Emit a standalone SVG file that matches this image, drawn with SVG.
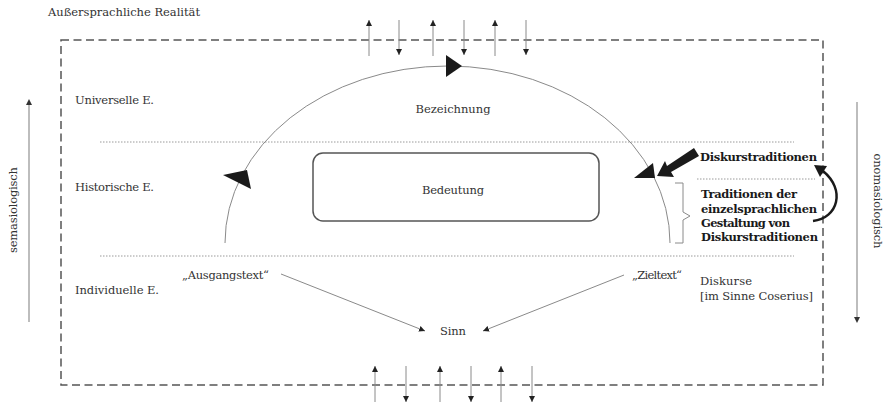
<svg xmlns="http://www.w3.org/2000/svg" width="884" height="404" viewBox="0 0 884 404">
<defs>
<style>
.t{font-family:"DejaVu Serif","Liberation Serif",serif;font-size:11.5px;fill:#333}
.b{font-weight:bold;fill:#1a1a1a}
.dot{stroke:#9a9a9a;stroke-width:1;stroke-dasharray:1.5 1.5;fill:none}
.thin{stroke:#8a8a8a;stroke-width:1;fill:none}
.side{stroke:#bdbdbd;stroke-width:2;fill:none}
.blk{fill:#1a1a1a;stroke:none}
</style>
<marker id="ah" viewBox="0 0 6 6" refX="6" refY="3" markerWidth="6" markerHeight="6" markerUnits="userSpaceOnUse" orient="auto"><path d="M0,0L6,3L0,6z" fill="#222"/></marker>
</defs>
<rect width="884" height="404" fill="#fff"/>

<g id="reality">
<text class="t" x="48" y="16" textLength="152">Außersprachliche Realität</text>
<rect x="61" y="40" width="762" height="345" fill="none" stroke="#555" stroke-width="1.5" stroke-dasharray="8 4.5"/>
</g>

<g id="levels">
<line class="dot" x1="100" y1="142" x2="794" y2="142"/>
<line class="dot" x1="100" y1="256" x2="794" y2="256"/>
<line class="dot" x1="697" y1="179" x2="815" y2="179"/>
<text class="t" x="75" y="104" textLength="79">Universelle E.</text>
<text class="t" x="75" y="191" textLength="79">Historische E.</text>
<text class="t" x="75" y="294" textLength="84">Individuelle E.</text>
</g>

<g id="bezeichnung">
<text class="t" x="453" y="113" text-anchor="middle" textLength="75">Bezeichnung</text>
</g>

<g id="bedeutung">
<rect x="313" y="153" width="286" height="68" rx="10" fill="#fff" stroke="#555" stroke-width="1.5"/>
<text class="t" x="453" y="194" text-anchor="middle" textLength="62">Bedeutung</text>
</g>

<g id="ausgangstext">
<text class="t" x="182" y="279" textLength="87">„Ausgangstext“</text>
</g>
<g id="zieltext">
<text class="t" x="632" y="279" textLength="50">„Zieltext“</text>
</g>
<g id="sinn">
<text class="t" x="440" y="335" textLength="26">Sinn</text>
</g>
<g id="diskurse">
<text class="t" x="700" y="285" textLength="52">Diskurse</text>
<text class="t" x="700" y="300" textLength="113">[im Sinne Coserius]</text>
</g>
<g id="diskurstraditionen">
<text class="t b" x="700" y="161" textLength="117">Diskurstraditionen</text>
</g>
<g id="traditionen">
<path class="thin" d="M675,183 L683,183 L683,212 L690,216 L683,220 L683,243 L675,243"/>
<text class="t b" x="701" y="198" textLength="96">Traditionen der</text>
<text class="t b" x="701" y="213" textLength="116">einzelsprachlichen</text>
<text class="t b" x="701" y="227" textLength="89">Gestaltung von</text>
<text class="t b" x="701" y="241" textLength="117">Diskurstraditionen</text>
</g>
<g id="semasiologisch">
<text class="t" transform="translate(17,210) rotate(-90)" text-anchor="middle" textLength="86">semasiologisch</text>
</g>
<g id="onomasiologisch">
<text class="t" transform="translate(874,201) rotate(90)" text-anchor="middle" textLength="95">onomasiologisch</text>
</g>

<g id="connectors">
<line class="thin" x1="369" y1="56" x2="369" y2="20" marker-end="url(#ah)"/>
<line class="thin" x1="399" y1="20" x2="399" y2="55" marker-end="url(#ah)"/>
<line class="thin" x1="433" y1="56" x2="433" y2="20" marker-end="url(#ah)"/>
<line class="thin" x1="464" y1="20" x2="464" y2="55" marker-end="url(#ah)"/>
<line class="thin" x1="495" y1="56" x2="495" y2="20" marker-end="url(#ah)"/>
<line class="thin" x1="526" y1="20" x2="526" y2="55" marker-end="url(#ah)"/>
<line class="thin" x1="375" y1="402" x2="375" y2="366" marker-end="url(#ah)"/>
<line class="thin" x1="406" y1="366" x2="406" y2="402" marker-end="url(#ah)"/>
<line class="thin" x1="440" y1="402" x2="440" y2="366" marker-end="url(#ah)"/>
<line class="thin" x1="471" y1="366" x2="471" y2="402" marker-end="url(#ah)"/>
<line class="thin" x1="501" y1="402" x2="501" y2="366" marker-end="url(#ah)"/>
<line class="thin" x1="532" y1="366" x2="532" y2="402" marker-end="url(#ah)"/>
<line class="thin" stroke="#666" x1="281" y1="274" x2="425" y2="331" marker-end="url(#ah)"/>
<line class="thin" stroke="#666" x1="624" y1="275" x2="483" y2="331" marker-end="url(#ah)"/>
<path class="thin" d="M225,243 A222.5,177 0 0 1 670,243"/>
<polygon class="blk" points="446,55 446,77 462,66"/>
<polygon class="blk" points="223,175 247,170 251,189"/>
<polygon class="blk" points="634,178 653,163 655,178"/>
<polygon class="blk" points="694,148 699,156 671,172 674,177 657,176 665,161 667,166"/>
<path d="M813,221 C838,218 846,190 823,171" fill="none" stroke="#1a1a1a" stroke-width="2.5"/>
<polygon class="blk" points="814,165 827,166 820,177"/>
<line class="side" x1="29" y1="322" x2="29" y2="104"/>
<path d="M26,105 L29,99 L32,105z" fill="#333"/>
<line class="side" x1="857" y1="102" x2="857" y2="318"/>
<path d="M854,317 L857,323 L860,317z" fill="#333"/>
</g>
</svg>
